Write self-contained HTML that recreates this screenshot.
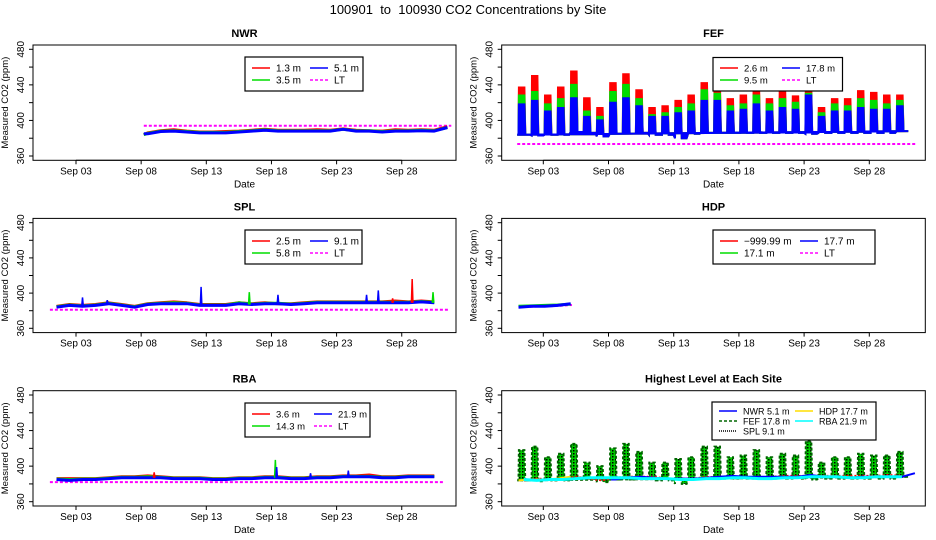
<!DOCTYPE html>
<html><head><meta charset="utf-8"><style>
body{margin:0;background:#fff}
svg{display:block;font-family:"Liberation Sans",sans-serif}
</style></head><body>
<svg id="c" width="936" height="540" viewBox="0 0 936 540" xmlns="http://www.w3.org/2000/svg">
<defs>
<pattern id="hatch" width="3" height="3" patternUnits="userSpaceOnUse"><rect width="3" height="3" fill="#00cc00"/><rect width="1.5" height="1.5" fill="#000"/></pattern>
</defs>
<text x="468" y="14" text-anchor="middle" font-size="13" xml:space="preserve">100901  to  100930 CO2 Concentrations by Site</text>
</svg>
<script>
// ---- data (values in ppm; day index 0 = Sep 01) ----
const tickDays=[2,7,12,17,22,27];
const tickLabels=["Sep 03","Sep 08","Sep 13","Sep 18","Sep 23","Sep 28"];
const yTicks=[360,400,440,480];
const yMinor=[380,420,460];

const fefRed=[437,450,428,437,455,425,414,442,452,434,414,416,422,428,442,439,424,428,437,424,433,427,437,414,424,424,433,431,428,428];
const fefGreen=[428,432,418,424,440,410,404,432,440,424,406,408,414,418,434,430,416,418,428,418,424,420,430,408,418,416,424,422,418,422];
const fefBlue=[418,422,410,414,425,404,400,420,425,416,404,404,408,410,422,422,410,412,418,410,414,412,428,404,410,410,414,412,412,416];
const fefBase=[384,383,384,384,387,386,382,385,385,386,384,384,380,385,386,386,386,386,386,386,386,386,385,386,386,386,386,386,386,388];
const fefLT=[373.5];

const nwrStart=7.2;
const nwrBlue=[385,387.5,388,387,386,386,386,387,388,389,388,388,388,388,388,390,388,388,387,388,388,388.5,388,392];
const nwrRed=[386,388.5,389.5,388,387,387,387.5,388,389,390,389,389,389,389.5,389,390.5,389,388.5,388,389.5,389,389.5,389,393];
const nwrGreen=[385.5,388,388.5,387.5,386.5,386.5,386.5,387.5,388.5,389.5,388.5,388.5,388.5,388.5,388.5,390,388.5,388.5,387.5,388.5,388.5,389,388.5,392];
const nwrLT=[394];

const splBlue=[384,386,385,386,388,386,384,387,388,388,388,386,386,386,388,387,388,388,387,388,389,389,389,389,389,389,389,389,390,389];
const splRed=[385,387,386,387,389,387,385,388,389,390,389,387,387,387,389,388,389,388,388,389,390,390,390,390,390,390,391,390,391,390];
const splGreen=[384.5,386.5,385.5,386.5,388.5,386.5,384.5,387.5,388.5,389,388.5,386.5,386.5,386.5,389,387.5,388.5,388.5,387.5,388.5,389.5,389.5,389.5,389.5,389.5,389.5,389.5,389.5,390.5,389.5];
const splLT=[381];
const splSpikeDay=[2.5,4.4,11.6,15.3,17.5,24.3,25.2,27.8,29.4,26.3];
const splSpikeVal=[395,392,407,401,398,398,403,416,401,394];
const splSpikeColor=["blue","blue","blue","#00dd00","blue","blue","blue","red","#00dd00","red"];

const rbaBlue=[385,384,385,385,386,387,387,387,387,386,386,386,385,385,386,386,387,387,386,386,387,387,388,388,388,387,387,388,388,388];
const rbaRed=[386,386,386,386,387,388,388,389,388,387,387,387,386,386,387,387,388,388,387,387,388,388,389,389,390,388,388,389,389,389];
const rbaGreen=[385.5,385,385.5,385.5,386.5,387.5,387.5,388,387.5,386.5,386.5,386.5,385.5,385.5,386.5,386.5,387.5,387.5,386.5,386.5,387.5,387.5,388.5,388.5,388.5,387.5,387.5,388.5,388.5,388.5];
const rbaLT=[382];
const rbaSpikeDay=[17.3,17.4,8.0,22.9,20.0];
const rbaSpikeVal=[407,399,393,395,392];
const rbaSpikeColor=["#00dd00","blue","red","blue","blue"];

const hdpBlue=[384,385,385,386,388];
const hdpGreen=[385,385.5,386,386.5,387.5];
const hdpLT=[384,384.5,385,385.5,386.5];

// ---- drawing ----
const svg=document.getElementById('c');
const NS='http://www.w3.org/2000/svg';
function mk(tag,attrs,parent,text){const e=document.createElementNS(NS,tag);for(const k in attrs)e.setAttribute(k,attrs[k]);if(text!==undefined)e.textContent=text;(parent||svg).appendChild(e);return e;}

const cols=[{l:33,r:456,x3:76,dw:13.03},{l:501.7,r:925.3,x3:543.3,dw:13.04}];
const rows=[{y480:49.3,y360:156,date:true},{y480:222.7,y360:328.3,date:false},{y480:395,y360:501.7,date:true}];

function makePanel(ci,ri,title,name){
  const c=cols[ci],r=rows[ri];
  const X=d=>c.x3+(d-2)*c.dw;
  const Y=v=>r.y360-(v-360)*(r.y360-r.y480)/120;
  const g=mk('g',{});
  
  
  const top=r.y480-4.3,bot=r.y360+4.3;
  const t=mk('text',{x:(c.l+c.r)/2,y:top-8,'text-anchor':'middle','font-size':11,'font-weight':'bold'},g,title);
  
  
  const plot=mk('g',{},g);
  
  
  const box=mk('rect',{x:c.l,y:top,width:c.r-c.l,height:bot-top,fill:'none',stroke:'#000','stroke-width':1},g);
  
  
  const xa=mk('g',{},g);
  
  
  mk('line',{x1:X(tickDays[0]),x2:X(tickDays[tickDays.length-1]),y1:bot,y2:bot,stroke:'#000'},xa);
  tickDays.forEach((d,i)=>{
    mk('line',{x1:X(d),x2:X(d),y1:bot,y2:bot+4,stroke:'#000'},xa);
    const tl=mk('text',{x:X(d),y:bot+14,'text-anchor':'middle','font-size':10},xa,tickLabels[i]);
    
    
  });
  if(r.date){const dl=mk('text',{x:(c.l+c.r)/2,y:bot+27,'text-anchor':'middle','font-size':10},g,'Date');
    
    }
  const ya=mk('g',{},g);
  
  
  yTicks.concat(yMinor).forEach(v=>mk('line',{x1:c.l-4,x2:c.l,y1:Y(v),y2:Y(v),stroke:'#000'},ya));
  yTicks.forEach(v=>{const tx=c.l-9;const tl=mk('text',{x:tx,y:Y(v),'text-anchor':'middle','font-size':10,transform:`rotate(-90 ${tx} ${Y(v)})`},ya,String(v));
    
    });
  const ax=c.l-25,ay=(top+bot)/2;
  const yt=mk('text',{x:ax,y:ay,'text-anchor':'middle','font-size':9.5,transform:`rotate(-90 ${ax} ${ay})`},g,'Measured CO2 (ppm)');
  
  
  return {g,plot,X,Y};
}

function line(p,pts,color,w,name,dash){
  const e=mk('polyline',{points:pts.map(q=>p.X(q[0]).toFixed(1)+','+p.Y(q[1]).toFixed(1)).join(' '),fill:'none',stroke:color,'stroke-width':w,'stroke-linejoin':'round'},p.plot);
  if(dash)e.setAttribute('stroke-dasharray',dash);
  
  
  return e;
}
function dailyPts(arr,start){
  const pts=[];arr.forEach((v,i)=>pts.push([start+i+0.5,v]));
  return pts;
}
function ltLine(p,val,d0,d1,color,name){
  line(p,[[d0,val],[d1,val]],color,2,name,'3,2');
}
function spikes(p,days,vals,colors,base,start,name){
  days.forEach((d,i)=>{
    const b=base[Math.min(base.length-1,Math.max(0,Math.floor(d-start)))];
    const e=mk('polyline',{points:`${p.X(d-0.06)},${p.Y(b)} ${p.X(d)},${p.Y(vals[i])} ${p.X(d+0.06)},${p.Y(b)}`,fill:colors[i],stroke:colors[i],'stroke-width':1.5},p.plot);
    
    
  });
}
function blocks(p,peak,base,color,name,stroke,dash){
  let pts=[[0,base[0]]];
  peak.forEach((v,i)=>{pts.push([i+0.1,base[i]],[i+0.13,v],[i+0.55,v],[i+0.62,base[i]],[i+0.99,base[i]]);});
  const s=pts.map(q=>p.X(q[0]).toFixed(1)+','+p.Y(q[1]).toFixed(1)).join(' ');
  const e=mk('polygon',{points:s,fill:color,stroke:stroke||color,'stroke-width':2},p.plot);
  if(dash)e.setAttribute('stroke-dasharray',dash);
  
  
}

function legend(x,y,w,h,items,name,fs){
  const g=mk('g',{});
  
  
  mk('rect',{x,y,width:w,height:h,fill:'#fff',stroke:'#000','stroke-width':1.2},g);
  items.forEach(it=>{
    const l=mk('line',{x1:it.lx,x2:it.lx+18,y1:it.y,y2:it.y,stroke:it.c,'stroke-width':it.w||1.5},g);
    if(it.d)l.setAttribute('stroke-dasharray',it.d);
    const t=mk('text',{x:it.lx+24,y:it.y+3.5,'font-size':fs||10,'xml:space':'preserve'},g,it.t);
    
    
  });
}

// NWR
let p=makePanel(0,0,'NWR','nwr');
ltLine(p,nwrLT[0],nwrStart,30.8,'#ff00ff','nwr-lt-line');
line(p,[[nwrStart,384]].concat(dailyPts(nwrRed,7)),'red',3,'nwr-1.3m-line');
line(p,[[nwrStart,384]].concat(dailyPts(nwrGreen,7)),'#00dd00',3,'nwr-3.5m-line');
line(p,[[nwrStart,385]].concat(dailyPts(nwrBlue,7)),'blue',3,'nwr-5.1m-line');
legend(245,57,118,34,[{lx:252,y:68,c:'red',t:'1.3 m'},{lx:252,y:80,c:'#00dd00',t:'3.5 m'},{lx:310,y:68,c:'blue',t:'5.1 m'},{lx:310,y:80,c:'#ff00ff',t:'LT',d:'3,2'}],'nwr-legend');

// FEF
p=makePanel(1,0,'FEF','fef');
ltLine(p,fefLT[0],0,30.6,'#ff00ff','fef-lt-line');
blocks(p,fefRed,fefBase,'red','fef-2.6m-series');
blocks(p,fefGreen,fefBase,'#00dd00','fef-9.5m-series');
blocks(p,fefBlue,fefBase,'blue','fef-17.8m-series');
legend(713,57.5,129.5,33.5,[{lx:720,y:68,c:'red',t:'2.6 m'},{lx:720,y:80,c:'#00dd00',t:'9.5 m'},{lx:782,y:68,c:'blue',t:'17.8 m'},{lx:782,y:80,c:'#ff00ff',t:'LT',d:'3,2'}],'fef-legend',9.5);

// SPL
p=makePanel(0,1,'SPL','spl');
ltLine(p,splLT[0],0,30.6,'#ff00ff','spl-lt-line');
line(p,dailyPts(splRed,0),'red',3,'spl-2.5m-line');
line(p,dailyPts(splGreen,0),'#00dd00',3,'spl-5.8m-line');
line(p,dailyPts(splBlue,0),'blue',3,'spl-9.1m-line');
spikes(p,splSpikeDay,splSpikeVal,splSpikeColor,splBlue,0,'spl-spike');
legend(245,230,117,34,[{lx:252,y:241,c:'red',t:'2.5 m'},{lx:252,y:253,c:'#00dd00',t:'5.8 m'},{lx:310,y:241,c:'blue',t:'9.1 m'},{lx:310,y:253,c:'#ff00ff',t:'LT',d:'3,2'}],'spl-legend');

// HDP
p=makePanel(1,1,'HDP','hdp');
line(p,dailyPts(hdpLT,-0.3),'#ff00ff',2,'hdp-lt-line','3,2');
line(p,dailyPts(hdpGreen,-0.4),'#00dd00',3,'hdp-17.1m-line');
line(p,dailyPts(hdpBlue,-0.4),'blue',3,'hdp-17.7m-line');
legend(713,230,162,34,[{lx:720,y:241,c:'red',t:'\u2212999.99 m'},{lx:720,y:253,c:'#00dd00',t:'17.1 m'},{lx:800,y:241,c:'blue',t:'17.7 m'},{lx:800,y:253,c:'#ff00ff',t:'LT',d:'3,2'}],'hdp-legend');

// RBA
p=makePanel(0,2,'RBA','rba');
ltLine(p,rbaLT[0],0,30.2,'#ff00ff','rba-lt-line');
line(p,dailyPts(rbaRed,0),'red',3,'rba-3.6m-line');
line(p,dailyPts(rbaGreen,0),'#00dd00',3,'rba-14.3m-line');
line(p,dailyPts(rbaBlue,0),'blue',3,'rba-21.9m-line');
spikes(p,rbaSpikeDay,rbaSpikeVal,rbaSpikeColor,rbaBlue,0,'rba-spike');
legend(245,403,125,34,[{lx:252,y:414,c:'red',t:'3.6 m'},{lx:252,y:426,c:'#00dd00',t:'14.3 m'},{lx:314,y:414,c:'blue',t:'21.9 m'},{lx:314,y:426,c:'#ff00ff',t:'LT',d:'3,2'}],'rba-legend',9.5);

// Highest
p=makePanel(1,2,'Highest Level at Each Site','highest');
blocks(p,fefBlue,fefBase,'url(#hatch)','highest-fef-17.8m-series','#006600','3,2');
line(p,dailyPts(splBlue,0),'red',2,'highest-spl-9.1m-line','2,2');
line(p,[[nwrStart,385]].concat(dailyPts(nwrBlue,7)),'blue',2,'highest-nwr-5.1m-line');
line(p,dailyPts(hdpBlue,-0.4),'#ffdd00',2,'highest-hdp-17.7m-line');
line(p,dailyPts(rbaBlue,0),'cyan',3,'highest-rba-21.9m-line');
legend(712,402,164,38,[{lx:719,y:411,c:'blue',t:'NWR  5.1 m'},{lx:719,y:421,c:'#006600',t:'FEF  17.8 m',d:'3,2'},{lx:719,y:431,c:'#000',t:'SPL  9.1 m',d:'1,1'},{lx:795,y:411,c:'#ffdd00',t:'HDP  17.7 m'},{lx:795,y:421,c:'cyan',t:'RBA  21.9 m'}],'highest-legend',9);
</script>
</body></html>
